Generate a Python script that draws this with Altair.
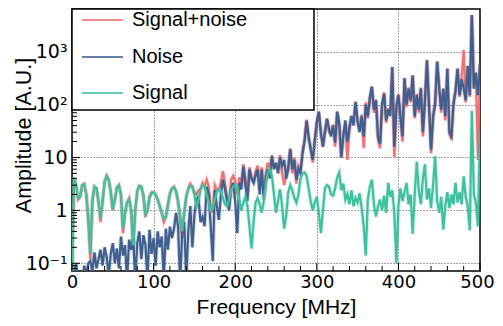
import altair as alt
import pandas as pd

# ---------------- data ----------------
freq = [i * 2.5 for i in range(201)]  # MHz, 2.5 MHz bins from 0 to 500

signal_noise = [
    0.05, 4.2, 3.0, 1.6, 1.8, 3.0, 3.2, 2.0, 0.6, 0.12,
    1.5, 2.8, 2.6, 1.4, 0.6, 1.5, 3.5, 4.5, 3.8, 2.2,
    1.0, 1.6, 2.7, 3.0, 2.0, 0.37, 0.9, 1.4, 1.7, 1.0,
    0.18, 1.0, 2.3, 2.9, 2.8, 1.9, 0.75, 1.0, 1.8, 2.2,
    2.2, 2.0, 1.6, 1.2, 0.9, 0.6, 0.75, 1.3, 2.1, 2.6,
    2.8, 2.3, 1.4, 0.7, 0.3, 0.9, 1.8, 2.6, 3.2, 2.8,
    2.2, 2.0, 2.4, 2.5, 3.3, 2.8, 3.8, 2.8, 1.2, 0.9,
    3.0, 2.5, 2.4, 3.5, 5.5, 3.2, 1.8, 1.5, 3.8, 4.5,
    3.5, 2.0, 4.2, 3.0, 7.5, 4.0, 2.2, 6.5, 4.0, 3.5,
    5.5, 7.0, 2.5, 6.5, 2.0, 5.0, 8.0, 6.0, 11, 6.5,
    7, 6, 11, 5, 3, 4.5, 7, 15, 5, 10,
    3.2, 7, 6, 13, 22, 52, 22, 16, 8, 22,
    48, 75, 28, 16, 32, 55, 30, 28, 42, 16,
    75, 40, 10, 28, 45, 9, 38, 62, 45, 115,
    45, 32, 65, 15, 110, 55, 140, 220, 70, 125,
    22, 15, 95, 170, 45, 85, 65, 500, 10, 85,
    160, 55, 20, 320, 90, 210, 110, 360, 55, 160,
    70, 210, 25, 110, 700, 95, 12, 55, 110, 640,
    210, 70, 190, 50, 470, 28, 22, 110, 190, 470,
    140, 320, 1070, 110, 520, 140, 4800, 210, 380, 9,
    600,
]

noise = [
    0.03, 0.06, 0.1, 0.05, 0.07, 0.04, 0.09, 0.06, 0.1, 0.11,
    0.07, 0.16, 0.08, 0.12, 0.18, 0.09, 0.2, 0.13, 0.06, 0.15,
    0.24, 0.1, 0.19, 0.08, 0.32, 0.14, 0.22, 0.05, 0.28, 0.18,
    0.3, 0.05, 0.24, 0.4, 0.12, 0.34, 0.22, 0.05, 0.43, 0.15,
    0.3, 0.09, 0.4, 0.2, 0.32, 0.05, 0.45, 0.18, 0.49, 0.3,
    0.45, 0.9, 0.5, 0.04, 0.37, 0.6, 0.05, 0.4, 1.2, 0.2,
    0.8, 1.6, 1.8, 0.6, 0.75, 0.5, 2.8, 2.0, 0.5, 0.11,
    2.4, 1.2, 0.66, 2.0, 3.8, 2.5, 1.5, 1.0, 2.5, 3.3,
    1.5, 0.37, 3.3, 2.5, 6.7, 3.0, 1.5, 5.9, 4.0, 3.3,
    4.5, 5.9, 2.0, 5.9, 1.6, 4.0, 5.9, 4.0, 10.5, 6.0,
    8, 5, 10, 7, 9, 4, 6, 14, 6, 9,
    3.8, 6, 5, 12, 20, 49, 25, 14, 9, 20,
    45, 72, 30, 16, 30, 53, 35, 25, 40, 19,
    72, 45, 10, 25, 50, 20, 35, 60, 40, 110,
    50, 30, 60, 25, 100, 60, 130, 215, 80, 120,
    25, 18, 100, 160, 50, 80, 60, 510, 16, 90,
    150, 60, 25, 310, 100, 200, 120, 350, 60, 150,
    80, 200, 30, 120, 680, 100, 14, 60, 100, 650,
    200, 80, 200, 60, 480, 30, 25, 100, 180, 480,
    150, 300, 200, 120, 540, 150, 4900, 200, 400, 150,
    600,
]

signal = [
    0.05, 4.2, 3.0, 1.7, 1.8, 3.0, 3.1, 2.0, 0.8, 0.15,
    1.6, 2.8, 2.6, 1.5, 0.7, 1.5, 3.5, 4.4, 3.8, 2.2,
    1.05, 1.6, 2.7, 2.95, 2.0, 0.45, 0.9, 1.4, 1.6, 1.0,
    0.22, 1.0, 2.3, 2.9, 2.8, 1.9, 0.85, 1.0, 1.7, 2.1,
    2.2, 2.0, 1.6, 1.2, 0.9, 0.7, 0.75, 1.2, 2.0, 2.6,
    2.7, 2.3, 1.5, 0.8, 0.4, 0.9, 1.8, 2.5, 2.9, 2.8,
    2.0, 1.2, 1.5, 2.5, 3.0, 2.8, 2.0, 1.4, 1.0, 1.1,
    1.6, 2.2, 2.5, 2.3, 1.7, 1.3, 1.2, 1.6, 2.3, 2.8,
    3.0, 2.8, 1.6, 1.0, 1.4, 1.8, 1.2, 0.5, 0.19, 0.6,
    1.4, 1.7, 1.3, 0.9, 1.5, 3.0, 5.0, 6.0, 4.5, 2.0,
    0.9, 1.5, 2.5, 1.2, 0.45, 0.8, 2.2, 3.0, 2.4, 1.7,
    1.4, 2.0, 4.0, 5.0, 5.2, 4.5, 2.6, 1.5, 1.0, 1.4,
    1.8, 0.9, 0.37, 1.0, 2.6, 3.0, 2.8, 2.0, 1.9, 2.6,
    4.2, 5.2, 2.4, 3.2, 1.6, 2.0, 1.3, 2.4, 1.2, 1.7,
    1.4, 2.1, 1.1, 0.5, 0.14, 1.6, 2.8, 3.8, 1.3, 0.76,
    1.2, 1.6, 1.0, 1.9, 0.9, 3.3, 1.8, 2.4, 0.9, 0.10,
    1.2, 2.6, 1.5, 2.2, 3.3, 1.3, 2.0, 0.36, 2.0, 8.3,
    2.4, 1.3, 4.0, 7.4, 1.6, 2.6, 1.1, 3.0, 10.5, 1.5,
    0.9, 1.8, 0.43, 1.2, 2.2, 1.1, 2.0, 1.3, 3.3, 1.4,
    2.2, 1.3, 4.4, 1.8, 1.2, 0.42, 76, 2.0, 1.4, 0.5,
    34,
]

series_names = ["Signal+noise", "Noise", "Signal"]
series_colors = ["#f07074", "#3f5f8f", "#3fc09e"]

x_major = [0, 100, 200, 300, 400, 500]
y_major = [0.1, 1, 10, 100, 1000]

# ---------------- build tables ----------------
df = pd.DataFrame({
    "freq": freq * 3,
    "amp": signal_noise + noise + signal,
    "series": [series_names[0]] * len(freq) + [series_names[1]] * len(freq) + [series_names[2]] * len(freq),
})

x_minor = [v for v in range(0, 501, 20) if v % 100 != 0]
y_minor = []
for dec in [0.01, 0.1, 1, 10, 100, 1000]:
    for m in range(2, 10):
        v = m * dec
        if 0.0714 < v < 6400:
            y_minor.append(v)

W, H = 408, 262
x_scale = alt.Scale(domain=[0, 500], nice=False)
y_scale = alt.Scale(type="log", domain=[0.0714, 6400], nice=False)

FONT = "Liberation Sans"
TICKFONT = "DejaVu Sans"

x_axis = alt.Axis(
    values=x_major, format="d", grid=True, ticks=False, domain=False,
    labelFontSize=18, labelFont=TICKFONT, labelPadding=2, labelFlush=False,
    labelOffset={"condition": {"test": "datum.value == 500", "value": -3}, "value": 0},
    labelColor="black", title="Frequency [MHz]", titleFont=FONT,
    titleFontSize=21, titleFontWeight="normal", titleColor="black",
    titleX=204, titleY=42, titleBaseline="alphabetic", titleAlign="center",
)
y_axis = alt.Axis(
    values=y_major, grid=True, ticks=False, domain=False,
    labelExpr="datum.value == 0.1 ? '10⁻¹' : datum.value == 1 ? '1' : datum.value == 10 ? '10' : datum.value == 100 ? '10²' : '10³'",
    labelFontSize=19, labelFont=TICKFONT, labelPadding=5, labelFlush=False,
    labelColor="black", title="Amplitude [A.U.]", titleFont=FONT,
    titleFontSize=21.5, titleFontWeight="normal", titleColor="black",
    titleX=-48, titleY=126, titleBaseline="middle", titleAlign="center", titleAngle=270,
)

layers = []
for i, (name, col) in enumerate(zip(series_names, series_colors)):
    base = alt.Chart(df).transform_filter(alt.datum.series == name)
    enc = dict(
        x=alt.X("freq:Q", scale=x_scale, axis=x_axis),
        y=alt.Y("amp:Q", scale=y_scale, axis=y_axis),
    )
    halo = base.mark_line(color=col, strokeWidth=4, opacity=0.25, clip=True).encode(**enc)
    core = base.mark_line(color=col, strokeWidth=2.2, clip=True).encode(**enc)
    layers += [halo, core]

# inner ticks (ROOT style)
xt_major = alt.Chart(pd.DataFrame({"freq": x_major})).mark_rule(color="black", strokeWidth=1).encode(
    x=alt.X("freq:Q", scale=x_scale, axis=x_axis), y=alt.value(H), y2=alt.value(H - 8))
xt_minor = alt.Chart(pd.DataFrame({"freq": x_minor})).mark_rule(color="black", strokeWidth=1).encode(
    x=alt.X("freq:Q", scale=x_scale, axis=x_axis), y=alt.value(H), y2=alt.value(H - 5))
yt_major = alt.Chart(pd.DataFrame({"amp": y_major})).mark_rule(color="black", strokeWidth=1).encode(
    y=alt.Y("amp:Q", scale=y_scale, axis=y_axis), x=alt.value(0), x2=alt.value(8))
yt_minor = alt.Chart(pd.DataFrame({"amp": y_minor})).mark_rule(color="black", strokeWidth=1).encode(
    y=alt.Y("amp:Q", scale=y_scale, axis=y_axis), x=alt.value(0), x2=alt.value(5))

# legend box
leg_df = pd.DataFrame({
    "label": series_names,
    "col": series_colors,
    "ypix": [11, 48, 84],
})
leg_box = alt.Chart(pd.DataFrame({"a": [0]})).mark_rect(
    fill="white", stroke="black", strokeWidth=1.5
).encode(x=alt.value(0), x2=alt.value(242), y=alt.value(0), y2=alt.value(101))
leg_lines = alt.Chart(leg_df).mark_rule(strokeWidth=2, opacity=0.8).encode(
    x=alt.value(10), x2=alt.value(51),
    y=alt.Y("ypix:Q", scale=None, axis=None),
    color=alt.Color("col:N", scale=None, legend=None),
)
leg_text = alt.Chart(leg_df).mark_text(
    align="left", baseline="middle", font=FONT, fontSize=20, color="black"
).encode(
    x=alt.value(60),
    y=alt.Y("ypix:Q", scale=None, axis=None),
    text="label:N",
)

chart = alt.layer(
    *layers, xt_major, xt_minor, yt_major, yt_minor, leg_box, leg_lines, leg_text
).properties(
    width=W, height=H,
    autosize=alt.AutoSizeParams(type="none"),
    padding={"left": 64, "top": 1, "right": 15, "bottom": 47},
).configure_view(
    stroke="black", strokeWidth=1.5
).configure_axis(
    gridColor="#333333", gridDash=[1, 2], gridWidth=1, gridOpacity=0.9,
    labelOverlap=False,
)

chart.save("out.html", embed_options={"renderer": "svg", "actions": False})
